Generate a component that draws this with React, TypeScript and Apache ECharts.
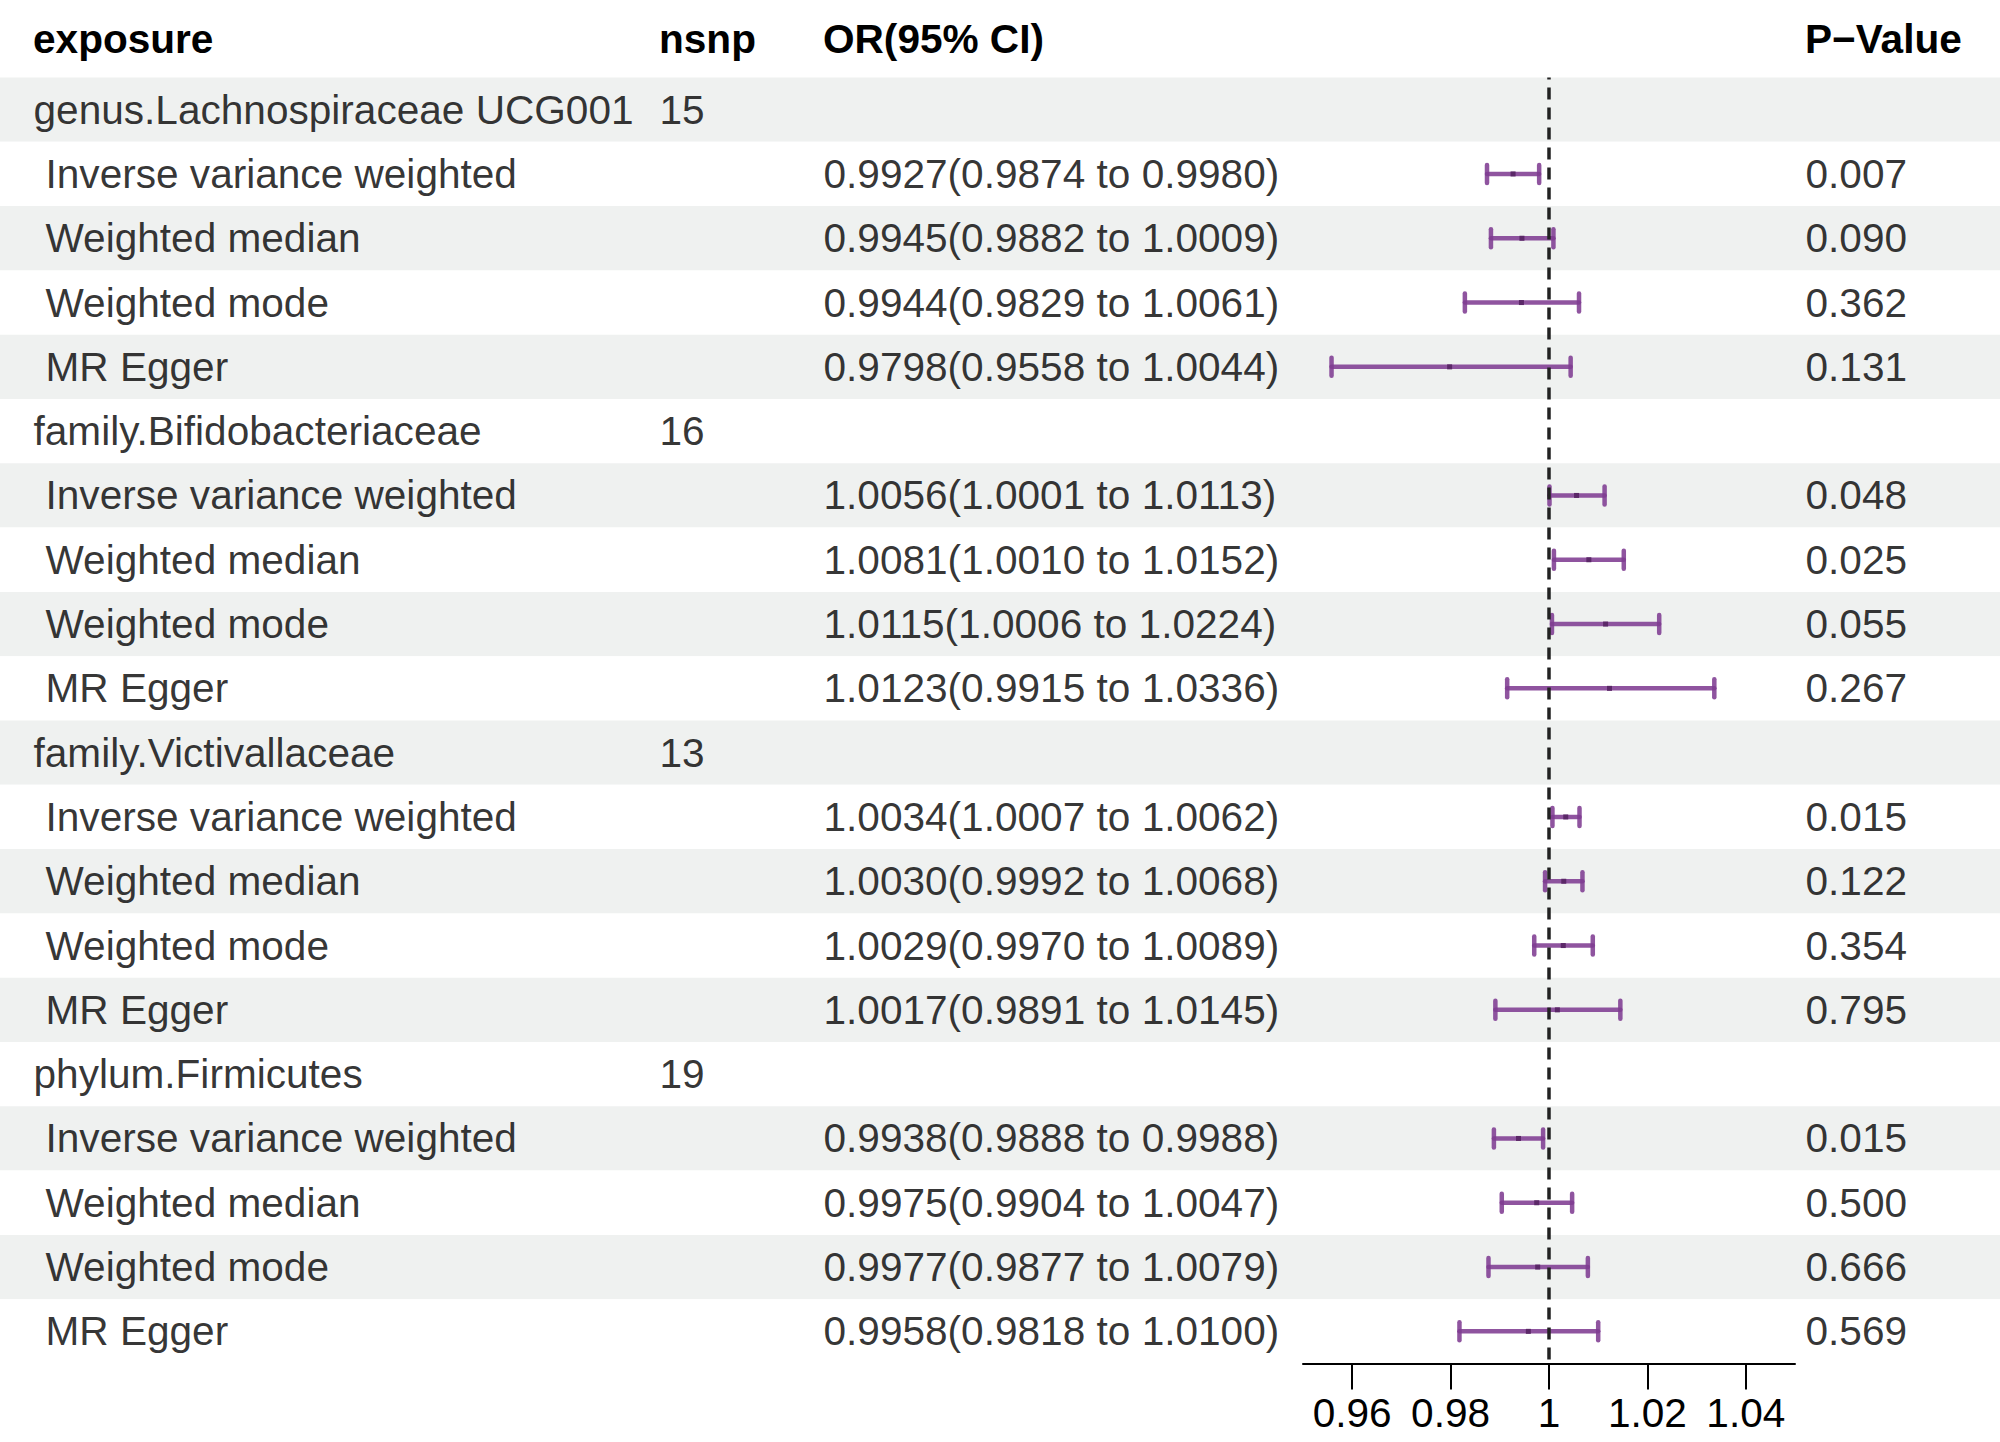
import React, { useEffect, useRef } from "react";
import * as echarts from "echarts";

const exposures = [
  "genus.Lachnospiraceae UCG001",
  "family.Bifidobacteriaceae",
  "family.Victivallaceae",
  "phylum.Firmicutes",
];
const nsnp = [15, 16, 13, 19];
const methods = ["Inverse variance weighted", "Weighted median", "Weighted mode", "MR Egger"];
const estimates = [
  0.9927, 0.9945, 0.9944, 0.9798,
  1.0056, 1.0081, 1.0115, 1.0123,
  1.0034, 1.003, 1.0029, 1.0017,
  0.9938, 0.9975, 0.9977, 0.9958,
];
const lowers = [
  0.9874, 0.9882, 0.9829, 0.9558,
  1.0001, 1.001, 1.0006, 0.9915,
  1.0007, 0.9992, 0.997, 0.9891,
  0.9888, 0.9904, 0.9877, 0.9818,
];
const uppers = [
  0.998, 1.0009, 1.0061, 1.0044,
  1.0113, 1.0152, 1.0224, 1.0336,
  1.0062, 1.0068, 1.0089, 1.0145,
  0.9988, 1.0047, 1.0079, 1.01,
];
const pValues = [
  "0.007", "0.090", "0.362", "0.131",
  "0.048", "0.025", "0.055", "0.267",
  "0.015", "0.122", "0.354", "0.795",
  "0.015", "0.500", "0.666", "0.569",
];
const headers = ["exposure", "nsnp", "OR(95% CI)", "P\u2212Value"];
const xTicks = [0.96, 0.98, 1, 1.02, 1.04];
const refValue = 1;

const FONT = "'Liberation Sans', Arial, Helvetica, sans-serif";
const FS = 40.6;
const PURPLE = "rgba(128,60,146,0.88)";

export default function App() {
  const ref = useRef<HTMLDivElement>(null);
  useEffect(() => {
    if (!ref.current) return;
    const chart = echarts.init(ref.current, undefined, { renderer: "svg" });

    const rowIds: string[] = [];
    const nameData: any[] = [];
    const subData: any[] = [];
    const nsnpData: any[] = [];
    const orData: any[] = [];
    const pData: any[] = [];
    const ciData: any[] = [];
    const colX = { name: 33, sub: 45, nsnp: 659, or: 823, p: 1805 };
    let r = 0;
    exposures.forEach((ex, g) => {
      rowIds.push(String(r));
      nameData.push([colX.name, r, ex]);
      nsnpData.push([colX.nsnp, r, String(nsnp[g])]);
      r++;
      methods.forEach((m, k) => {
        const i = g * methods.length + k;
        rowIds.push(String(r));
        subData.push([colX.sub, r, m]);
        orData.push([
          colX.or,
          r,
          `${estimates[i].toFixed(4)}(${lowers[i].toFixed(4)} to ${uppers[i].toFixed(4)})`,
        ]);
        pData.push([colX.p, r, pValues[i]]);
        ciData.push([lowers[i], r, uppers[i], estimates[i]]);
        r++;
      });
    });

    const textSeries = (data: any[]) => ({
      type: "scatter",
      xAxisIndex: 0,
      yAxisIndex: 0,
      data,
      symbolSize: 1,
      silent: true,
      itemStyle: { color: "rgba(0,0,0,0)" },
      label: {
        show: true,
        position: "right",
        distance: 0,
        color: "#000",
        fontSize: FS,
        fontFamily: FONT,
        formatter: (p: any) => p.value[2],
      },
      z: 3,
    });

    const top = 77.5;
    const height = 1286;

    chart.setOption({
      animation: false,
      backgroundColor: "#ffffff",
      grid: [
        { left: 0, right: 0, top, height },
        { left: 1303, width: 492, top, height },
      ],
      xAxis: [
        { type: "value", gridIndex: 0, min: 0, max: 2000, show: false },
        {
          type: "value",
          gridIndex: 1,
          min: 0.95,
          max: 1.05,
          position: "bottom",
          splitLine: { show: false },
          axisLine: { show: true, onZero: false, lineStyle: { color: "#000", width: 2 } },
          axisTick: {
            show: true,
            customValues: xTicks,
            length: 26,
            lineStyle: { color: "#000", width: 2 },
          },
          axisLabel: {
            show: true,
            customValues: xTicks,
            margin: 29,
            color: "#000",
            fontSize: FS,
            fontFamily: FONT,
            formatter: (v: number) => String(+v.toFixed(2)),
          },
        },
      ],
      yAxis: [
        {
          type: "category",
          gridIndex: 0,
          data: rowIds,
          inverse: true,
          axisLine: { show: false },
          axisTick: { show: false },
          axisLabel: { show: false },
          splitLine: { show: false },
          splitArea: { show: true, areaStyle: { color: ["#eff1f0", "#ffffff"] } },
        },
        {
          type: "category",
          gridIndex: 1,
          data: rowIds,
          inverse: true,
          show: false,
        },
      ],
      graphic: headers.map((h, i) => ({
        type: "text",
        x: [colX.name, colX.nsnp, colX.or, colX.p][i],
        y: 39,
        style: {
          text: h,
          fill: "#000",
          fontSize: FS,
          fontWeight: "bold",
          fontFamily: FONT,
          align: "left",
          verticalAlign: "middle",
        },
      })),
      series: [
        textSeries(nameData),
        textSeries(subData),
        textSeries(nsnpData),
        textSeries(orData),
        textSeries(pData),
        {
          type: "custom",
          xAxisIndex: 1,
          yAxisIndex: 1,
          data: ciData,
          silent: true,
          encode: { x: [0, 2, 3], y: 1 },
          z: 4,
          renderItem: (params: any, api: any) => {
            const lo = api.coord([api.value(0), api.value(1)]);
            const hi = api.coord([api.value(2), api.value(1)]);
            const mid = api.coord([api.value(3), api.value(1)]);
            const capH = 9;
            const st = { stroke: PURPLE, lineWidth: 4.5, lineCap: "round" };
            return {
              type: "group",
              children: [
                { type: "line", shape: { x1: lo[0], y1: lo[1], x2: hi[0], y2: hi[1] }, style: st },
                { type: "line", shape: { x1: lo[0], y1: lo[1] - capH, x2: lo[0], y2: lo[1] + capH }, style: st },
                { type: "line", shape: { x1: hi[0], y1: hi[1] - capH, x2: hi[0], y2: hi[1] + capH }, style: st },
                {
                  type: "rect",
                  shape: { x: mid[0] - 2.5, y: mid[1] - 2.5, width: 5, height: 5 },
                  style: { fill: "#5b2868" },
                },
              ],
            };
          },
        },
        {
          type: "line",
          xAxisIndex: 1,
          yAxisIndex: 1,
          data: [],
          z: 6,
          markLine: {
            silent: true,
            symbol: "none",
            label: { show: false },
            lineStyle: { type: [12, 8], dashOffset: 10, color: "#222222", width: 3.5 },
            data: [{ xAxis: refValue }],
          },
        },
      ],
    });
    return () => chart.dispose();
  }, []);
  return (
    <div
      ref={ref}
      style={{ position: "absolute", left: 0, top: 0, width: 2000, height: 1442 }}
    />
  );
}
